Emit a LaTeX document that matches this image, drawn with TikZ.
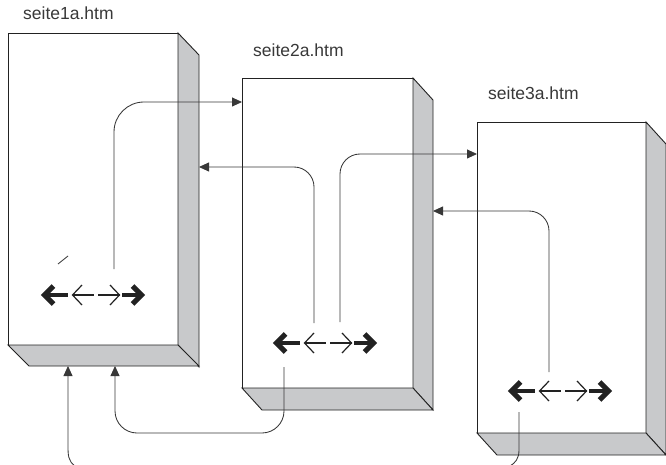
\documentclass[tikz,border=0pt]{standalone}
\usepackage{fontspec}
\setmainfont{Liberation Sans}
\usetikzlibrary{arrows.meta}
\definecolor{sidegray}{HTML}{C8C9CB}
\definecolor{ink}{HTML}{222222}
\begin{document}
\begin{tikzpicture}[x=1pt,y=-1pt,
  face/.style={draw=ink, line width=0.9pt, fill=white, inner sep=0pt, outer sep=0pt},
  sideface/.style={fill=sidegray, draw=ink, line width=0.9pt, line join=miter},
  link/.style={draw=ink!90, line width=0.85pt},
  tipped/.style={-{Triangle[length=10pt,width=9pt]}},
  pagelabel/.style={font=\fontsize{17.5}{20}\selectfont, text=ink!90, inner sep=0pt, anchor=base west},
  heavyhead/.style={draw=ink, line width=5pt, line join=miter, miter limit=4, line cap=butt},
  heavyshaft/.style={draw=ink, line width=4.4pt, line cap=butt},
  thinglyph/.style={draw=ink, line width=1.2pt, line join=miter},
  navglyphs/.pic={
    \draw[heavyhead] (12.5,-9) -- (3.5,0) -- (12.5,9);
    \draw[heavyshaft] (3.5,0) -- (27,0);
    \draw[thinglyph] (41,-10) -- (31.5,0) -- (41,10);
    \draw[thinglyph] (31.5,0) -- (53,0);
    \draw[thinglyph] (69,-10) -- (78.5,0) -- (69,10);
    \draw[thinglyph] (57,0) -- (78.5,0);
    \draw[heavyshaft] (81,0) -- (100.5,0);
    \draw[heavyhead] (91.5,-9) -- (100.5,0) -- (91.5,9);
  }]
\useasboundingbox (0,0) rectangle (666,465);

% ---------- box 1 ----------
\node[face, minimum width=170pt, minimum height=312pt] (b1) at (93,189) {};
\draw[sideface] (b1.north east) -- ++(21,22) -- ++(0,312) -- (b1.south east) -- cycle;
\draw[sideface] (b1.south west) -- ++(21,21) -- ++(170,0) -- (b1.south east) -- cycle;
\node[pagelabel] (l1) at (23,20) {seite1a.htm};

% ---------- box 2 ----------
\node[face, minimum width=171pt, minimum height=310pt] (b2) at (327.5,233) {};
\draw[sideface] (b2.north east) -- ++(20,22) -- ++(0,310) -- (b2.south east) -- cycle;
\draw[sideface] (b2.south west) -- ++(20,22) -- ++(171,0) -- (b2.south east) -- cycle;
\node[pagelabel] (l2) at (253,57) {seite2a.htm};

% ---------- box 3 ----------
\node[face, minimum width=169pt, minimum height=311pt] (b3) at (561.5,277.5) {};
\draw[sideface] (b3.north east) -- ++(20,22) -- ++(0,311) -- (b3.south east) -- cycle;
\draw[sideface] (b3.south west) -- ++(20,22) -- ++(169,0) -- (b3.south east) -- cycle;
\node[pagelabel] (l3) at (488,100) {seite3a.htm};

% ---------- navigation glyphs ----------
\pic at (41,295) {navglyphs};
\pic at (273,343) {navglyphs};
\pic at (508,391) {navglyphs};

% ---------- connector end points ----------
\coordinate (s1) at (114,269);
\coordinate (s2) at (314,323);
\coordinate (s3) at (340,322);
\coordinate (s4) at (549,372);
\coordinate (s5) at (284,367);
\coordinate (m5) at (200,433);
\coordinate (e6) at (75,466);
\coordinate (s7) at (519,412);
\coordinate (e7) at (510,466);

% ---------- connectors ----------
\draw[link, tipped, rounded corners=30pt] (s1) |- ([yshift=-24pt]b2.north west);
\draw[link, tipped, rounded corners=20pt] (s2) |- ([xshift=21pt,yshift=-134pt]b1.north east);
\draw[link, tipped, rounded corners=20pt] (s3) |- ([yshift=-32pt]b3.north west);
\draw[link, tipped, rounded corners=20pt] (s4) |- ([xshift=20pt,yshift=-133pt]b2.north east);
\draw[link, tipped, rounded corners=22pt] (s5) |- (m5) -| ([xshift=107pt,yshift=-21pt]b1.south west);
\draw[link, tipped] (e6) .. controls (68,461) and (68,455) .. (68,445) -- ([xshift=60pt,yshift=-21pt]b1.south west);
\draw[link] (s7) -- (519,450) .. controls (519,459) and (515,463) .. (e7);

% small mark
\draw[link] (58,264) -- (68,256);
\end{tikzpicture}
\end{document}
